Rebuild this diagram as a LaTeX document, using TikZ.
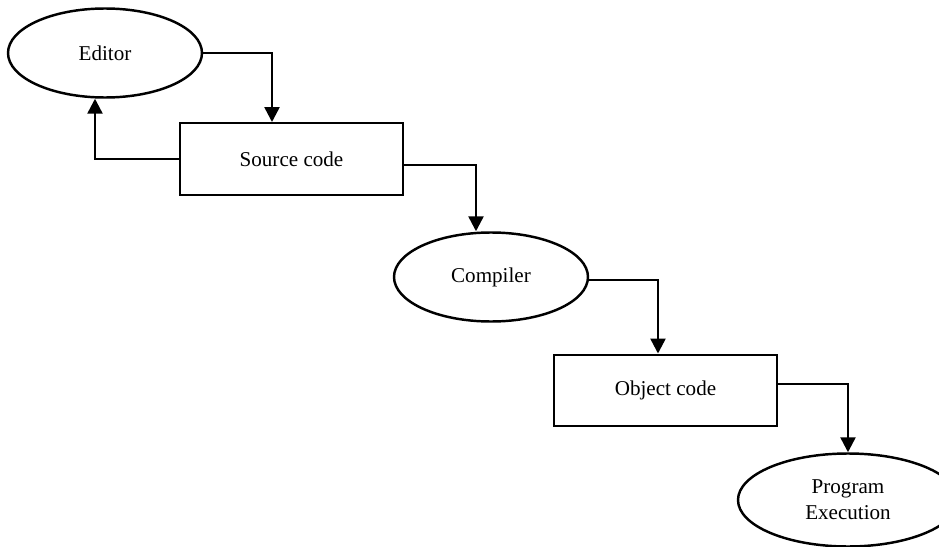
\documentclass[tikz,border=0pt]{standalone}
\usepackage{fontspec}
\setmainfont{Liberation Serif}
\usetikzlibrary{shapes.geometric,arrows.meta,positioning,calc}

\begin{document}
\begin{tikzpicture}[node distance=2cm and 3.5cm, on grid, font=\fontsize{12}{15}\selectfont]
    \tikzset{stage/.style={ellipse, draw, line width=1.4pt, minimum width=3.88cm, minimum height=1.78cm, align=center, inner sep=0pt}}
    \tikzset{block/.style={rectangle, draw, line width=1.4pt, minimum width=4.47cm, minimum height=1.43cm, align=center}}
    \tikzset{arrow/.style={-{Triangle[length=0.3cm, width=0.3cm]}, line width=1.4pt}}

    \useasboundingbox (0,0) rectangle (18.78,-10.94);

    % Editor and source
    \node[stage] (editor) at (2.1,-1.06) {Editor};
    \node[block, below right=2.12cm and 3.73cm of editor] (source) {Source code};

    % Compile step
    \node[stage, below right=2.36cm and 3.99cm of source] (compiler) {Compiler};
    \node[block, below right=2.27cm and 3.49cm of compiler] (object) {Object code};

    % Run
    \node[stage, minimum width=4.4cm, minimum height=1.86cm, below right=2.19cm and 3.65cm of object] (run) {Program\\Execution};

    % Arrows
    \draw[arrow] (editor.east) -| ([xshift=-0.39cm]source.north);
    \draw[arrow] (source.west) -| ([xshift=-0.2cm]editor.south);
    \draw[arrow] ([yshift=-0.12cm]source.east) -| ([xshift=-0.3cm]compiler.north);
    \draw[arrow] ([yshift=-0.06cm]compiler.east) -| ([xshift=-0.15cm]object.north);
    \draw[arrow] ([yshift=0.13cm]object.east) -| (run.north);
\end{tikzpicture}
\end{document}
